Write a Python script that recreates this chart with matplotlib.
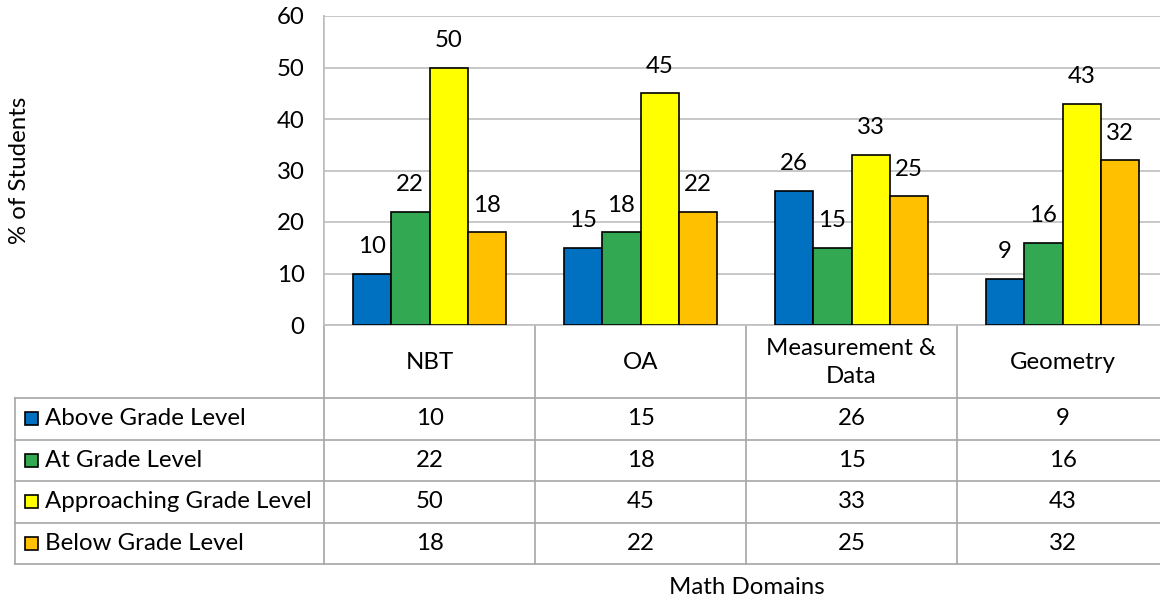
import numpy as np
import matplotlib.pyplot as plt
from matplotlib.patches import Rectangle

plt.rcParams['font.family'] = ['Lato', 'DejaVu Sans']

########## data ##########
domains = ['NBT', 'OA', 'Measurement &\nData', 'Geometry']
series = ['Above Grade Level', 'At Grade Level', 'Approaching Grade Level', 'Below Grade Level']
above = [10, 15, 26, 9]
at_level = [22, 18, 15, 16]
approaching = [50, 45, 33, 43]
below = [18, 22, 25, 32]
colors = ['#0070C0', '#33A852', '#FFFF00', '#FFC000']
values = [above, at_level, approaching, below]

########## layout (pixels) ##########
W, H = 1160, 600
x0, x1 = 324, 1168          # plot/table columns
ytop, ybase = 16, 325       # plot area
xlab = 15                   # table left edge
row_h = 41.5
hdr_bot = 398
grid_c = '#BFBFBF'
fs = 17.3

fig = plt.figure(figsize=(W / 100, H / 100), dpi=100)
ax = fig.add_axes([x0 / W, 1 - ybase / H, (x1 - x0) / W, (ybase - ytop) / H])

x = np.arange(len(domains))
bw = 0.182
for i, (s, v, c) in enumerate(zip(series, values, colors)):
    pos = x + (i - 1.5) * bw
    bars = ax.bar(pos, v, bw, color=c, edgecolor='black', linewidth=1.2, zorder=3)
    for b, val in zip(bars, v):
        ax.annotate(str(val), (b.get_x() + b.get_width() / 2, val), xytext=(0, 12),
                    textcoords='offset points', ha='center', va='bottom', fontsize=fs)

ax.set_xlim(-0.5, len(domains) - 0.5)
ax.set_ylim(0, 60)
ax.set_yticks(range(0, 61, 10))
ax.yaxis.grid(True, color=grid_c, linewidth=1.2, zorder=0)
ax.tick_params(axis='y', length=0, pad=14, labelsize=fs)
ax.tick_params(axis='x', length=0, labelbottom=False)
for sp in ['top', 'right']:
    ax.spines[sp].set_visible(False)
for sp in ['left', 'bottom']:
    ax.spines[sp].set_color(grid_c)
    ax.spines[sp].set_linewidth(1.2)
fig.text(20 / W, 1 - 170 / H, '% of Students', rotation=90, ha='center', va='center', fontsize=fs)

########## data table ##########
tab = fig.add_axes([0, 0, 1, 1], zorder=-1)
tab.set_xlim(0, W)
tab.set_ylim(H, 0)
tab.axis('off')

ncol = len(domains)
col_w = (x1 - x0) / ncol
rows_y = [hdr_bot + k * row_h for k in range(len(series) + 1)]
lc = '#A6A6A6'
lw = 1.2

# vertical lines
tab.plot([x0, x0], [ytop, rows_y[-1]], color=lc, lw=lw)
for k in range(1, ncol + 1):
    xx = x0 + k * col_w
    tab.plot([xx, xx], [ybase, rows_y[-1]], color=lc, lw=lw)
tab.plot([xlab, xlab], [hdr_bot, rows_y[-1]], color=lc, lw=lw)
# horizontal lines
for yy in rows_y:
    tab.plot([xlab, x1], [yy, yy], color=lc, lw=lw)

# header
for k, d in enumerate(domains):
    tab.text(x0 + (k + 0.5) * col_w, (ybase + hdr_bot) / 2 + 1, d, ha='center', va='center',
             fontsize=fs, linespacing=1.45)

# rows
for r, (s, v, c) in enumerate(zip(series, values, colors)):
    yc = (rows_y[r] + rows_y[r + 1]) / 2
    tab.add_patch(Rectangle((25, yc - 6.5), 13, 13, facecolor=c, edgecolor='black', lw=1.2))
    tab.text(45, yc, s, ha='left', va='center', fontsize=fs)
    for k, val in enumerate(v):
        tab.text(x0 + (k + 0.5) * col_w, yc, str(val), ha='center', va='center', fontsize=fs)

fig.text(747 / W, 1 - 587 / H, 'Math Domains', ha='center', va='center', fontsize=fs)

fig.savefig('out.png', dpi=100)
